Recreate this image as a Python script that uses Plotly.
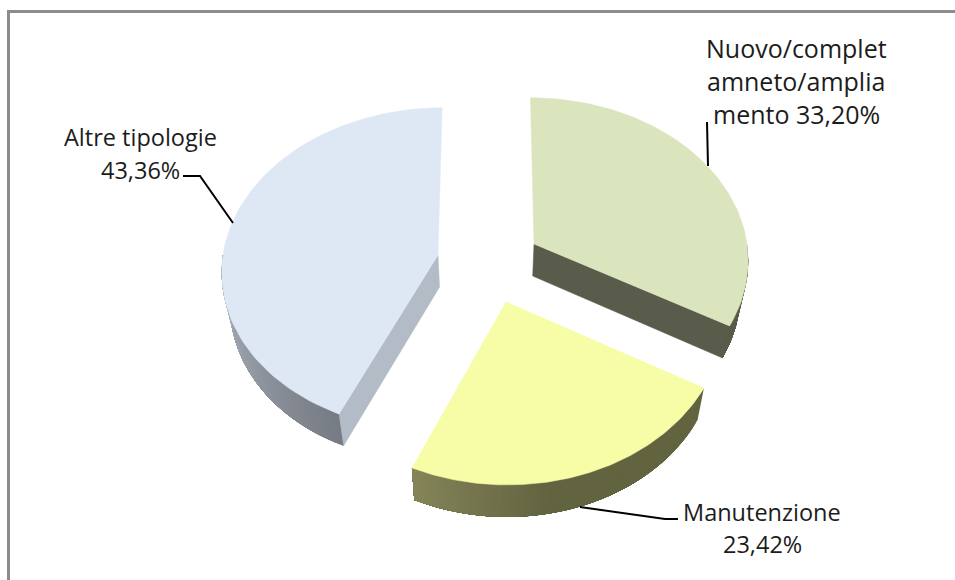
import math
import plotly.graph_objects as go

categories = ["Nuovo/completamento/ampliamento", "Manutenzione", "Altre tipologie"]
values = [33.20, 23.42, 43.36]
label_lines = [
    ["Nuovo/complet", "amneto/amplia", "mento 33,20%"],
    ["Manutenzione", "23,42%"],
    ["Altre tipologie", "43,36%"],
]

# page-pixel canvas and pseudo-3D look of the exploded pie
W, H = 955, 580
VP_X, PERSP, DEPTH, SHRINK = 490, 0.087, 32, 0.03
apexes = [(534, 244), (506, 302), (438, 255)]
radii = [(213, 159), (217, 167), (215, 160)]
top_colors = ["#DAE5BD", "#F6FDA6", "#DEE8F4"]
wall_light = [(90, 92, 75), (134, 134, 90), (178, 186, 196)]
wall_dark = [(90, 92, 75), (98, 100, 64), (118, 123, 132)]
flat_wall = ["#5A5C4B", None, "#B3BCC6"]
label_pos = [(796, [48, 81, 114]), (762, [512, 544]), (140, [137, 170])]
label_size = [25, 23.5, 23.5]
leaders = [
    ([707, 708], [122, 166]),
    ([580, 665, 678], [507, 519, 519]),
    ([183, 200, 233], [176, 176, 223]),
]


def rim(i, deg):
    t = math.radians(deg)
    u, v = math.sin(t), math.cos(t)
    ax, ay = apexes[i]
    rx, ry = radii[i]
    d = 1 + PERSP * v
    return VP_X + (ax + rx * u - VP_X) / d, ay - ry * v / d


def lower(p):
    return p[0] - (p[0] - VP_X) * SHRINK, p[1] + DEPTH


def sweep(a, b, n):
    return [a + (b - a) * k / n for k in range(n + 1)]


def poly(points, color, name, line_width=0.5):
    return go.Scatter(
        x=[p[0] for p in points] + [points[0][0]],
        y=[p[1] for p in points] + [points[0][1]],
        mode="lines", fill="toself", fillcolor=color,
        line=dict(color=color, width=line_width),
        hoverinfo="text", text=name, showlegend=False,
    )


def mix(a, b, f):
    f = max(0.0, min(1.0, f))
    return "rgb(%d,%d,%d)" % tuple(a[j] + (b[j] - a[j]) * f for j in range(3))


fig = go.Figure()
start = 0.0
total = sum(values)
for i, val in enumerate(values):
    end = start + val / total * 360
    apex = apexes[i]
    # flat cut wall, seen only where the cut faces the camera
    if flat_wall[i]:
        tip = rim(i, start if i == 2 else end)
        fig.add_trace(poly([apex, tip, lower(tip), lower(apex)], flat_wall[i], categories[i]))
    # curved outer wall: camera-facing part, painted with overlap so no seams show
    a, b = max(start, 90), min(end, 270)
    n = 60
    angs = sweep(a, b, n)
    for k in range(n):
        if i == 1:
            f = (b - angs[k]) / 35          # light at the left tip, darkening quickly
            color = mix(wall_light[i], wall_dark[i], f)
        elif i == 2:
            f = (angs[k] - a) / (b - a)     # dark at the cut, light toward the left
            color = mix(wall_dark[i], wall_light[i], f)
        else:
            color = mix(wall_dark[i], wall_light[i], 0)
        arc = [rim(i, d) for d in sweep(angs[k], b, 24)]
        fig.add_trace(poly(arc + [lower(p) for p in reversed(arc)], color, categories[i], 0))
    # top face
    pts = [apex] + [rim(i, d) for d in sweep(start, end, 90)]
    fig.add_trace(poly(pts, top_colors[i], "%s %.2f%%" % (categories[i], val)))
    start = end

for xs, ys in leaders:
    fig.add_trace(go.Scatter(x=xs, y=ys, mode="lines", line=dict(color="#000000", width=2),
                             hoverinfo="skip", showlegend=False))

for lines, (cx, ys), size in zip(label_lines, label_pos, label_size):
    for line, y in zip(lines, ys):
        fig.add_annotation(x=cx, y=y, text=line, showarrow=False, xanchor="center", yanchor="middle",
                           font=dict(family="Open Sans", size=size, color="#1C1C1C"))

fig.add_shape(type="line", x0=8.5, x1=8.5, y0=11, y1=H, line=dict(color="#8C8C8C", width=3))
fig.add_shape(type="line", x0=7, x1=W, y0=11.5, y1=11.5, line=dict(color="#8C8C8C", width=3))

fig.update_layout(
    width=W, height=H, margin=dict(l=0, r=0, t=0, b=0),
    paper_bgcolor="#FFFFFF", plot_bgcolor="#FFFFFF", showlegend=False,
    xaxis=dict(range=[0, W], visible=False, fixedrange=True),
    yaxis=dict(range=[H, 0], visible=False, fixedrange=True),
)
fig.write_html("out.html", config={"displayModeBar": False},
               post_script="document.body.style.margin='0';document.body.style.overflow='hidden';")
